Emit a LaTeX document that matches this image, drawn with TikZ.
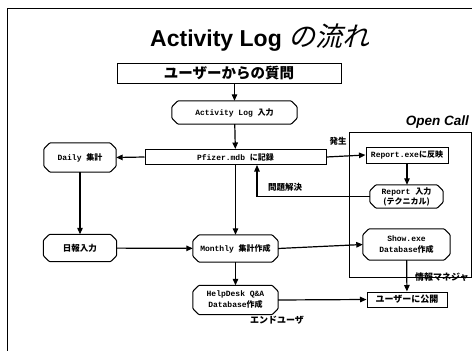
\documentclass[tikz,border=0pt]{standalone}
\usepackage{fontspec}
\setmainfont{Liberation Sans}
\setmonofont{Liberation Mono}
\newfontfamily\jpfont{Noto Sans CJK JP}
\newfontfamily\jpslant{Noto Sans CJK JP}[FakeSlant=0.25]
\usetikzlibrary{arrows.meta}
\newcommand\mtext[1]{{\ttfamily\bfseries #1}}
\newcommand\jtext[1]{{\jpfont\bfseries #1}}
\tikzset{
  flow/.style={line width=1.2pt,-{Triangle[length=6.5pt,width=5.5pt]}},
  plainbox/.style={draw,line width=1pt,rectangle,inner sep=0pt,align=center},
  octbox/.style={rectangle,inner sep=0pt,align=center},
  octline/.style={line width=1pt,rounded corners=1pt},
  small/.style={font=\fontsize{8}{10}\selectfont},
  lbl/.style={inner sep=0pt,font=\fontsize{8.5}{10}\selectfont},
}
\begin{document}
\begin{tikzpicture}[x=1pt,y=-1pt]
\useasboundingbox (0,0) rectangle (472,351);
% outer frame
\draw[line width=1pt] (7,8) rectangle (500,380);

% title
\node[anchor=west,inner sep=0pt] (title) at (150,38)
  {\fontsize{23}{26}\selectfont\bfseries Activity Log \jpslant\mdseries\fontsize{27}{28}\selectfont の流れ};

% Open Call area
\draw[line width=1pt] (349,132) rectangle (471,277);
\node[anchor=east,inner sep=0pt] (oc) at (469,122) {\fontsize{13.5}{15}\selectfont\bfseries\itshape Open Call};

% nodes
\node[plainbox,minimum width=224pt,minimum height=20pt] (q) at (229,73)
  {\fontsize{14.5}{16}\selectfont\jtext{ユーザーからの質問}};
\node[octbox,small,minimum width=125pt,minimum height=23pt] (alog) at (234.5,112.5)
  {\mtext{Activity Log }\jtext{入力}};
\node[plainbox,small,minimum width=181pt,minimum height=15pt] (pf) at (235.5,157)
  {\mtext{Pfizer.mdb }\jtext{に記録}};
\node[octbox,small,minimum width=72pt,minimum height=29pt] (daily) at (80,157.5)
  {\mtext{Daily }\jtext{集計}};
\node[octbox,minimum width=73pt,minimum height=27pt,font=\fontsize{8.5}{10}\selectfont] (nippo) at (80,248)
  {\jtext{日報入力}};
\node[octbox,small,minimum width=85pt,minimum height=27pt] (monthly) at (235.5,248.5)
  {\mtext{Monthly }\jtext{集計作成}};
\node[octbox,small,minimum width=85pt,minimum height=29pt] (help) at (235.5,300)
  {\mtext{HelpDesk Q\&A}\\[1pt]\mtext{Database}\jtext{作成}};
\node[plainbox,minimum width=80pt,minimum height=15pt,font=\fontsize{9}{10}\selectfont] (pub) at (407,299.5)
  {\jtext{ユーザーに公開}};
\node[plainbox,small,minimum width=82pt,minimum height=16pt] (rep) at (407,155)
  {\mtext{Report.exe}\jtext{に反映}};
\node[octbox,small,minimum width=73pt,minimum height=23pt] (repin) at (406.5,196.5)
  {\mtext{Report }\jtext{入力}\\\jtext{(テクニカル)}};
\node[octbox,small,minimum width=87pt,minimum height=31pt] (show) at (406.5,244.5)
  {\mtext{Show.exe}\\[1pt]\mtext{Database}\jtext{作成}};

% octagonal outlines with cut corners
\foreach \n in {alog,daily,nippo,monthly,help,repin,show}
  \draw[octline] ([xshift=6pt]\n.north west) -- ([xshift=-6pt]\n.north east)
    -- ([yshift=-6pt]\n.north east) -- ([yshift=6pt]\n.south east)
    -- ([xshift=-6pt]\n.south east) -- ([xshift=6pt]\n.south west)
    -- ([yshift=6pt]\n.south west) -- ([yshift=-6pt]\n.north west) -- cycle;

% labels
\node[lbl] (hassei) at (338,141) {\jtext{発生}};
\node[lbl] (kaiketsu) at (285,187) {\jtext{問題解決}};
\node[lbl,font=\fontsize{9}{10}\selectfont] (enduser) at (277,320) {\jtext{エンドユーザ}};
\node[lbl,anchor=west,font=\fontsize{9}{10}\selectfont] (joho) at (415,277.5) {\jtext{情報マネジャ}};

% connectors
\coordinate (fb) at (257,0);
\draw[flow] (q.south -| alog.north) -- (alog.north);
\draw[flow] (alog) -- (pf);
\draw[flow] (pf.west) -- (daily.east);
\draw[flow] (pf.east) -- (rep.west);
\draw[flow] (rep) -- (rep.south |- repin.north);
\draw[flow] (repin.west) -| (fb |- pf.south);
\draw[flow] (daily) -- (nippo);
\draw[flow] (pf) -- (monthly);
\draw[flow] (nippo) -- (monthly);
\draw[flow] (monthly) -- (help);
\draw[flow] (monthly.east) -- (show.west);
\draw[flow] (show) -- (pub);
\draw[flow] (help.east) -- (pub.west);
\end{tikzpicture}
\end{document}
